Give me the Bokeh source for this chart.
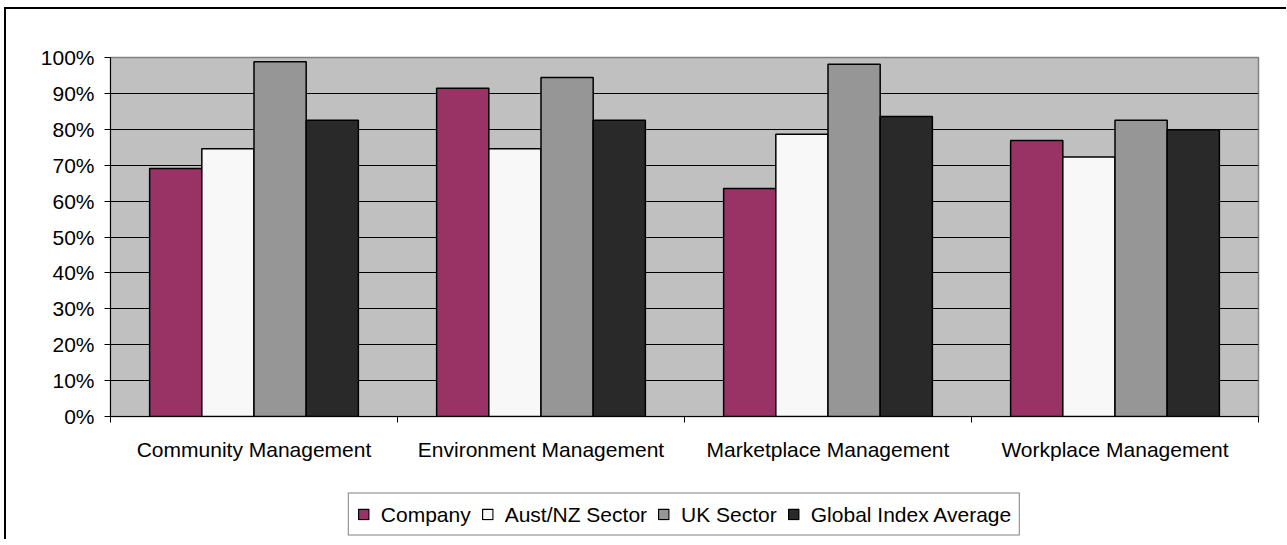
import numpy as np
from bokeh.plotting import figure
from bokeh.layouts import column
from bokeh.models import FixedTicker, NumeralTickFormatter, Legend, LegendItem, Range1d
from bokeh.embed import file_html
from bokeh.resources import INLINE

categories = ["Community Management", "Environment Management",
              "Marketplace Management", "Workplace Management"]
series_names = ["Company", "Aust/NZ Sector", "UK Sector", "Global Index Average"]
company = [0.691, 0.914, 0.635, 0.769]
aust_nz = [0.746, 0.746, 0.786, 0.723]
uk_sector = [0.988, 0.944, 0.981, 0.825]
global_avg = [0.825, 0.825, 0.836, 0.799]
y_ticks = [0.0, 0.1, 0.2, 0.3, 0.4, 0.5, 0.6, 0.7, 0.8, 0.9, 1.0]

series = [company, aust_nz, uk_sector, global_avg]
colors = ["#993366", "#F8F8F8", "#969696", "#292929"]

FONT = "Liberation Sans"
n_cat = len(categories)
bar_w = 1 / 5.5
W = 1280

p = figure(width=W, height=470, x_range=Range1d(0, n_cat), y_range=Range1d(0, 1),
           output_backend="svg", toolbar_location=None,
           min_border_left=104, min_border_right=28, min_border_top=48, min_border_bottom=63)

p.background_fill_color = "#C0C0C0"
p.border_fill_color = "white"
p.outline_line_color = "#808080"
p.outline_line_width = 1.5

p.xgrid.visible = False
p.ygrid.ticker = FixedTicker(ticks=y_ticks[1:-1])
p.ygrid.grid_line_color = "black"
p.ygrid.grid_line_width = 1

# y axis
p.yaxis.ticker = FixedTicker(ticks=y_ticks)
p.yaxis.formatter = NumeralTickFormatter(format="0%")
p.yaxis.axis_line_color = "black"
p.yaxis.major_tick_line_color = "black"
p.yaxis.major_tick_out = 6
p.yaxis.major_tick_in = 0
p.yaxis.minor_tick_line_color = None
p.yaxis.major_label_standoff = 10
p.yaxis.major_label_text_font = FONT
p.yaxis.major_label_text_font_size = "21px"
p.yaxis.major_label_text_color = "black"

# x axis: labels at centers, ticks at boundaries
centers = [i + 0.5 for i in range(n_cat)]
bounds = [float(i) for i in range(n_cat + 1)]
p.xaxis.ticker = FixedTicker(ticks=centers, minor_ticks=bounds)
p.xaxis.major_label_overrides = {c: lab for c, lab in zip(centers, categories)}
p.xaxis.axis_line_color = "black"
p.xaxis.major_tick_out = 0
p.xaxis.major_tick_in = 0
p.xaxis.major_tick_line_color = None
p.xaxis.minor_tick_line_color = "black"
p.xaxis.minor_tick_out = 6
p.xaxis.minor_tick_in = 0
p.xaxis.major_label_standoff = 15
p.xaxis.major_label_text_font = FONT
p.xaxis.major_label_text_font_size = "21px"
p.xaxis.major_label_text_color = "black"

for j, (vals, col) in enumerate(zip(series, colors)):
    xs = np.arange(n_cat) + 0.5 + (j - 1.5) * bar_w
    p.vbar(x=xs, top=vals, bottom=0, width=bar_w, fill_color=col,
           line_color="black", line_width=1.5)

# legend strip below the chart (its bars lie outside its view; only the legend shows)
lf = figure(width=W, height=60, x_range=Range1d(0, n_cat), y_range=Range1d(2, 3),
            output_backend="svg", toolbar_location=None,
            x_axis_type=None, y_axis_type=None,
            min_border_left=104, min_border_right=28, min_border_top=10, min_border_bottom=0)
lf.outline_line_color = None
lf.background_fill_color = "white"
lf.border_fill_color = "white"

items = []
for j, (vals, col, name) in enumerate(zip(series, colors, series_names)):
    xs = np.arange(n_cat) + 0.5 + (j - 1.5) * bar_w
    r = lf.vbar(x=xs, top=vals, bottom=0, width=bar_w, fill_color=col,
                line_color="black", line_width=1.2)
    items.append(LegendItem(label=name, renderers=[r]))

legend = Legend(items=items, orientation="horizontal", location="center",
                margin=0, padding=8, spacing=10, label_standoff=11,
                glyph_width=13, glyph_height=13, label_height=25,
                label_text_font=FONT, label_text_font_size="21px",
                label_text_color="black",
                border_line_color="black", border_line_width=1,
                background_fill_color="white", background_fill_alpha=1)
lf.add_layout(legend, "center")

layout = column(p, lf, spacing=0)
layout.styles = {"margin-left": "4px", "margin-top": "7px",
                 "border-left": "2px solid #000", "border-top": "2px solid #000"}

open("out.html", "w").write(file_html(layout, INLINE))
